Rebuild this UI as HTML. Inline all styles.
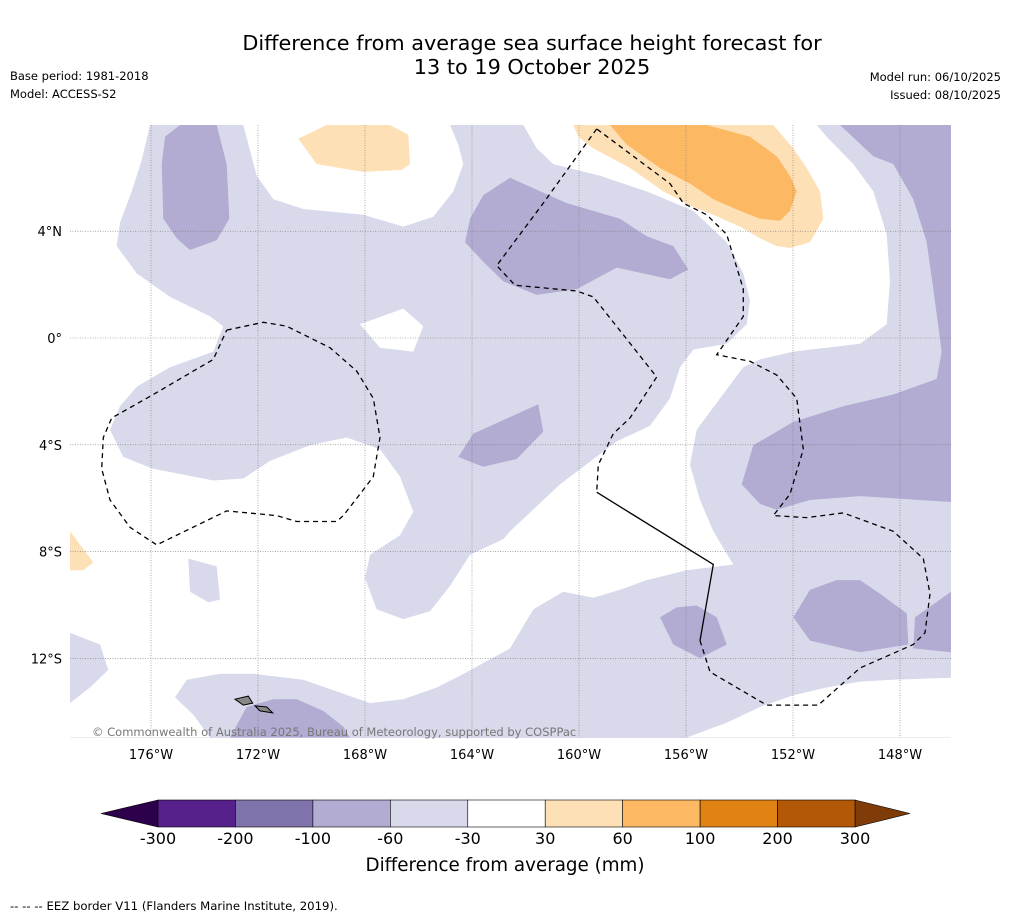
<!DOCTYPE html>
<html><head><meta charset="utf-8">
<style>
body{margin:0;background:#fff;width:1011px;height:919px;overflow:hidden;font-family:"DejaVu Sans","Liberation Sans",sans-serif;}
svg{position:absolute;left:0;top:0;font-family:"DejaVu Sans","Liberation Sans",sans-serif;}
</style></head>
<body>
<svg id="s" width="1011" height="919" viewBox="0 0 1011 919">
<text x="532" y="50" text-anchor="middle" font-size="20.8" fill="#000">Difference from average sea surface height forecast for</text>
<text x="532" y="74" text-anchor="middle" font-size="20.8" fill="#000">13 to 19 October 2025</text>
<text x="10" y="80" font-size="11.5">Base period: 1981-2018</text>
<text x="10" y="98" font-size="11.5">Model: ACCESS-S2</text>
<text x="1001" y="81" font-size="11.5" text-anchor="end">Model run: 06/10/2025</text>
<text x="1001" y="99" font-size="11.5" text-anchor="end">Issued: 08/10/2025</text>
<defs><clipPath id="mc"><rect x="70" y="125" width="881" height="613"/></clipPath></defs>
<g id="map" clip-path="url(#mc)"></g>
<g id="axes"></g>
<text x="92" y="736" font-size="11.5" fill="#777">© Commonwealth of Australia 2025, Bureau of Meteorology, supported by COSPPac</text>
<g id="cbar"></g>
<text x="505" y="871" text-anchor="middle" font-size="18.3">Difference from average (mm)</text>
<text x="10" y="910" font-size="11.7">--  --  -- EEZ border V11 (Flanders Marine Institute, 2019).</text>
</svg>
<script>
const levels=[-300,-200,-100,-60,-30,30,60,100,200,300];
const levelColors=["#56218a","#8073ac","#b2abd2","#d8daeb","#ffffff","#fee0b6","#fdb863","#e08214","#b35806"];
const extendColors=["#2d004b","#7f3b08"];
const lonTicks=[-176,-172,-168,-164,-160,-156,-152,-148];
const latTicks=[4,0,-4,-8,-12];
const NS="http://www.w3.org/2000/svg";
const svg=document.getElementById('s');
function mk(t,a,p){const e=document.createElementNS(NS,t);for(const k in a)e.setAttribute(k,a[k]);p.appendChild(e);return e;}
const lonX=l=>151+(l+176)*26.75;
const latY=l=>338-l*26.7;
function pts(str){const tk=str.trim().split(/\s+/);let f='a',out=[];for(let i=0;i<tk.length;){if(tk[i]==='a'||tk[i]==='b'){f=tk[i];i++;continue;}let x=+tk[i],y=+tk[i+1];i+=2;const ox=f==='a'?70:460;out.push([(ox+x/3).toFixed(1),(125+y/2.56).toFixed(1)]);}return out;}
function poly(str,fill,name){const p=pts(str);const e=mk('polygon',{points:p.map(q=>q.join(',')).join(' '),fill:fill},map);return e;}
function line(str,dash,name){const p=pts(str);const e=mk('polyline',{points:p.map(q=>q.join(',')).join(' '),fill:'none',stroke:'#000','stroke-width':1.3,'stroke-dasharray':dash?'5,4':'none'},map);return e;}
const map=document.getElementById('map');
const bg=mk('rect',{x:70,y:125,width:881,height:613,fill:levelColors[3]},map);


const W=levelColors[4],L=levelColors[3],D=levelColors[2],O1=levelColors[5],O2=levelColors[6];
poly("a 0 0 240 0 215 90 185 170 150 250 140 310 200 380 300 440 420 490 460 515 430 580 300 620 200 670 150 720 120 780 160 850 250 880 430 910 520 905 600 860 720 820 830 800 930 830 990 900 1030 990 990 1050 900 1100 885 1160 920 1240 1000 1265 1080 1245 1140 1180 1200 1100 1300 1060 b 150 1040 300 920 470 810 570 770 630 700 660 620 700 575 800 560 860 510 870 450 850 380 800 300 700 220 560 170 420 130 280 100 230 60 190 0 1070 0 1100 30 1180 100 1240 170 1280 280 1290 400 1280 510 1200 560 1000 580 900 600 850 620 780 700 710 780 690 870 720 960 760 1040 820 1125 680 1140 560 1165 480 1190 400 1210 310 1195 220 1240 150 1340 0 1410 a 1100 1440 1000 1470 900 1480 800 1450 700 1420 550 1405 450 1405 350 1420 315 1465 370 1510 420 1568 0 1568 0 1480 60 1440 115 1395 90 1330 0 1300",W,'white-region-main');
poly("a 520 0 1140 0 1165 50 1180 100 1150 170 1090 235 1000 260 880 230 700 215 610 190 560 130",W,'white-region-top');
poly("a 870 510 1000 470 1060 515 1030 580 930 570",W,'white-region-equator');
poly("b 680 1568 800 1530 900 1490 1000 1460 1100 1440 1200 1425 1300 1420 1473 1415 1473 1568",W,'white-region-bottom-right');
poly("a 355 1110 440 1130 450 1215 415 1222 360 1195",L,'light-lavender-patch');
poly("a 285 30 330 0 440 0 470 100 478 240 440 295 360 320 320 290 280 240 275 100",D,'dark-lavender-nw');
poly("b 150 135 320 200 480 240 560 285 640 310 685 370 630 395 470 365 350 420 230 435 130 400 70 350 15 300 30 240 70 180",D,'dark-lavender-north');
poly("a 1165 850 1210 790 1405 715 1420 785 1340 855 1240 875",D,'dark-lavender-central');
poly("b 1140 0 1473 0 1473 965 1200 950 1050 960 950 985 900 970 845 920 880 820 1000 760 1150 720 1300 690 1430 650 1445 580 1420 420 1400 300 1360 190 1300 100 1240 80",D,'dark-lavender-east');
poly("b 600 1260 650 1235 710 1230 770 1260 800 1330 720 1365 640 1330",D,'dark-lavender-south1');
poly("b 1000 1260 1050 1190 1130 1165 1200 1165 1260 1200 1340 1250 1345 1330 1200 1350 1050 1320",D,'dark-lavender-south2');
poly("b 1365 1260 1473 1195 1473 1350 1360 1340",D,'dark-lavender-south3');
poly("a 480 1568 530 1490 610 1470 680 1470 760 1500 820 1540 840 1568",D,'dark-lavender-samoa');
poly("a 685 35 770 0 960 0 1015 25 1020 100 995 115 880 120 740 100",O1,'orange-light-nw');
poly("b 340 0 940 0 1000 60 1040 110 1080 170 1090 240 1050 300 990 315 950 310 900 290 840 260 760 230 700 210 610 170 510 110 400 60 355 30",O1,'orange-light-ne');
poly("b 450 0 740 0 870 30 950 80 990 130 1010 170 990 220 960 245 900 240 840 220 760 190 690 150 600 110 500 50",O2,'orange-mid-ne');
poly("a 0 1040 70 1120 40 1140 0 1140",O1,'orange-light-west');
lonTicks.forEach(l=>{const g=mk('line',{x1:lonX(l),x2:lonX(l),y1:125,y2:738,stroke:'#777','stroke-width':0.6,'stroke-dasharray':'1,1.5'},map);});
latTicks.forEach(l=>{const g=mk('line',{x1:70,x2:951,y1:latY(l),y2:latY(l),stroke:'#777','stroke-width':0.6,'stroke-dasharray':'1,1.5'},map);});
line("a 470 525 580 505 650 515 780 570 860 630 910 700 930 800 910 900 870 945 820 1000 800 1015 680 1015 620 1000 470 988 260 1075 180 1030 120 960 95 880 100 800 125 750 250 690 430 600 470 525",true,'eez-border-samoa-tokelau');
line("b 410 10 250 200 110 360 165 410 350 425 400 440 590 645 510 750 460 790 415 870 410 940",true,'eez-border-kiribati');
line("b 410 940 760 1125 720 1320",false,'eez-border-solid');
line("b 720 1320 750 1400 920 1485 1075 1485 1200 1390 1360 1330 1395 1300 1410 1200 1390 1110 1300 1040 1150 993 1040 1005 940 1000 990 945 1030 830 1010 700 950 640 870 605 770 588 850 490 850 420 800 280 740 230 670 200 630 150 410 10",true,'eez-border-east');
poly("a 495 1470 535 1462 548 1480 520 1485",'#888','island-savaii').setAttribute('stroke','#000');
poly("a 555 1487 590 1490 608 1505 570 1500",'#888','island-upolu').setAttribute('stroke','#000');
const ax=document.getElementById('axes');
lonTicks.forEach(l=>{const t=mk('text',{x:lonX(l),y:759,'text-anchor':'middle','font-size':13},ax);t.textContent=Math.abs(l)+'°W';});
latTicks.forEach(l=>{const t=mk('text',{x:62,y:latY(l)+5,'text-anchor':'end','font-size':13},ax);t.textContent=l===0?'0°':Math.abs(l)+'°'+(l>0?'N':'S');});
const cb=document.getElementById('cbar');
const cx0=158,cx1=855,cy=800,ch=27;
const cbX=i=>cx0+(cx1-cx0)*i/(levels.length-1);
const tl=mk('polygon',{points:`${cx0},${cy} 101,${cy+ch/2} ${cx0},${cy+ch}`,fill:extendColors[0],stroke:'#000','stroke-width':0.6},cb);


const tr=mk('polygon',{points:`${cx1},${cy} 910,${cy+ch/2} ${cx1},${cy+ch}`,fill:extendColors[1],stroke:'#000','stroke-width':0.6},cb);


levelColors.forEach((c,i)=>{const r=mk('rect',{x:cbX(i),y:cy,width:cbX(i+1)-cbX(i),height:ch,fill:c,stroke:'#000','stroke-width':0.6},cb);});
levels.forEach((v,i)=>{const t=mk('text',{x:cbX(i),y:844,'text-anchor':'middle','font-size':16},cb);t.textContent=v;});
</script>
</body></html>
